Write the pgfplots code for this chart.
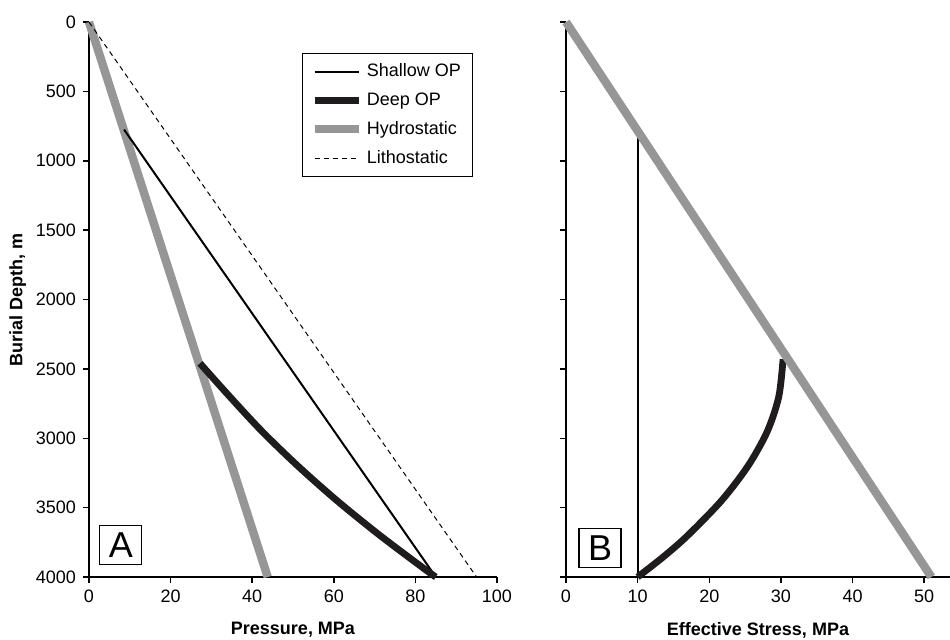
\documentclass[border=0pt]{standalone}
\usepackage{fontspec}
\setmainfont{Liberation Sans}
\usepackage{pgfplots}
\pgfplotsset{compat=1.18}
\definecolor{hydro}{RGB}{150,150,150}
\definecolor{deep}{RGB}{30,28,28}

\pgfplotsset{
  panel/.style={
    scale only axis,
    height=277.5pt,
    y dir=reverse,
    ymin=0, ymax=4000,
    ytick={0,500,...,4000},
    axis x line=bottom, axis y line=left,
    axis line style={line width=0.75pt, -},
    tick style={black, line width=0.75pt},
    tick align=outside,
    major tick length=3pt,
    clip=false,
    tick label style={font=\fontsize{9}{11}\selectfont},
    label style={font=\fontsize{9}{11}\selectfont\bfseries},
    xlabel shift=3pt,
    /pgf/number format/assume math mode=true,
    /pgf/number format/set thousands separator={},
    scaled ticks=false,
  },
}
\tikzset{
  letterbox/.style={draw, line width=0.6pt, font=\fontsize{18}{18}\selectfont,
    inner sep=0pt, minimum width=21pt, minimum height=19.5pt},
  litho/.style={black, line width=0.5pt, dash pattern=on 2.5pt off 2pt},
}

\begin{document}
\begin{tikzpicture}
\useasboundingbox (-44.5pt,-31pt) rectangle (430.5pt,288.5pt);

% panel A: pressure
\begin{axis}[panel,
    width=204pt,
    xmin=0, xmax=100,
    xtick={0,20,...,100},
    xlabel={Pressure, MPa},
    ylabel={Burial Depth, m},
    ylabel shift=-2pt,
    legend style={at={(0.522,0.944)}, anchor=north west, draw=black, line width=0.5pt,
      font=\fontsize{9}{11}\selectfont, inner xsep=4pt, inner ysep=3pt, row sep=2.5pt},
    legend cell align=left,
    legend image code/.code={\draw[#1] (0pt,0pt) -- (22pt,0pt);},
]
\addplot[hydro, line width=4.2pt, forget plot] coordinates {(0,0) (43.8,4000)};
\addplot[litho, forget plot] coordinates {(0,0) (95,4000)};
\addplot[black, line width=1pt, forget plot] coordinates {(8.6,775) (85,4000)};
\addplot[deep, line width=3.4pt, smooth, forget plot] coordinates {
  (27.2,2460) (34.5,2700) (42.4,2950) (51.2,3200) (60.8,3450) (71.3,3700) (82.6,3950) (85,4000)};

\addlegendimage{black, line width=1pt}
\addlegendentry{Shallow OP}
\addlegendimage{deep, line width=3.4pt}
\addlegendentry{Deep OP}
\addlegendimage{hydro, line width=4.2pt}
\addlegendentry{Hydrostatic}
\addlegendimage{litho}
\addlegendentry{Lithostatic}

\node[letterbox] at (axis cs:7.8,3770) {A};
\end{axis}

% panel B: effective stress
\begin{axis}[panel,
    at={(238.5pt,0pt)}, anchor=south west,
    width=192pt,
    xmin=0, xmax=53.6,
    xtick={0,10,...,50},
    yticklabels={},
    xlabel={Effective Stress, MPa},
]
\addplot[black, line width=1pt] coordinates {(10,814) (10,4000)};
\addplot[deep, line width=3.4pt, smooth] coordinates {
  (30.3,2430) (29.7,2700) (28.1,2950) (25.4,3200) (21.7,3450) (17.0,3700) (13.7,3850) (10,4000)};
\addplot[hydro, line width=4.2pt] coordinates {(0,0) (51,4000)};

\node[letterbox] at (axis cs:4.75,3790) {B};
\end{axis}
\end{tikzpicture}
\end{document}
